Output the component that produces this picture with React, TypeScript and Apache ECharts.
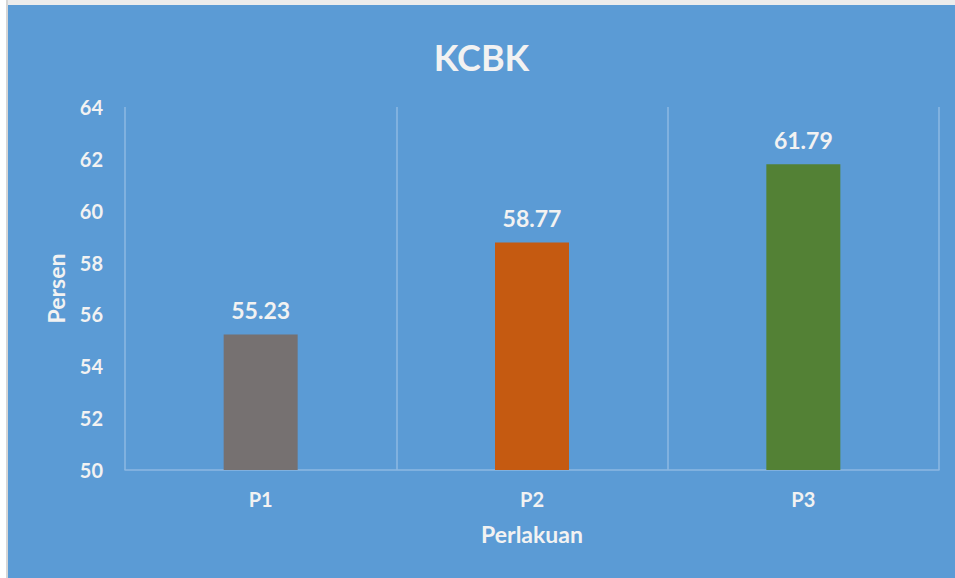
import React, { useEffect, useRef } from "react";
import * as echarts from "echarts";

const categories = ["P1", "P2", "P3"];
const values = [55.23, 58.77, 61.79];
const barColors = ["#767171", "#C55A11", "#538135"];
const titleText = "KCBK";
const yAxisName = "Persen";
const xAxisName = "Perlakuan";

export default function App() {
  const ref = useRef<HTMLDivElement>(null);
  useEffect(() => {
    document.body.style.margin = "0";
    const chart = echarts.init(ref.current!, null, { renderer: "svg" });
    const textColor = "#F2F2F2";
    const font = "Lato, 'Open Sans', sans-serif";
    chart.setOption({
      animation: false,
      backgroundColor: "#5B9BD5",
      textStyle: { fontFamily: font },
      title: {
        text: titleText,
        left: "center",
        top: 29,
        textStyle: { color: textColor, fontSize: 36, fontWeight: "bold", fontFamily: font },
      },
      grid: { left: 117, right: 16, top: 102, bottom: 108 },
      xAxis: {
        type: "category",
        data: categories,
        boundaryGap: true,
        axisLine: { show: true, lineStyle: { color: "#8DB8E2", width: 1.5 } },
        axisTick: { show: false },
        splitLine: { show: true, lineStyle: { color: "#8DB8E2", width: 1.5 } },
        axisLabel: { color: textColor, fontSize: 20, fontWeight: "bold", margin: 19, fontFamily: font },
        name: xAxisName,
        nameLocation: "middle",
        nameGap: 52,
        nameTextStyle: { color: textColor, fontSize: 23, fontWeight: "bold", fontFamily: font },
      },
      yAxis: {
        type: "value",
        min: 50,
        max: 64,
        interval: 2,
        axisLine: { show: false },
        axisTick: { show: false },
        splitLine: { show: false },
        axisLabel: { color: textColor, fontSize: 20, fontWeight: "bold", margin: 22, fontFamily: font },
        name: yAxisName,
        nameLocation: "middle",
        nameGap: 58,
        nameTextStyle: { color: textColor, fontSize: 23, fontWeight: "bold", fontFamily: font },
      },
      series: [
        {
          type: "bar",
          barWidth: 74,
          data: values.map((v, i) => ({ value: v, itemStyle: { color: barColors[i] } })),
          label: {
            show: true,
            position: "top",
            distance: 13,
            color: textColor,
            fontSize: 23,
            fontWeight: "bold",
            fontFamily: font,
            formatter: (p: any) => p.value.toFixed(2),
          },
        },
      ],
    });
    return () => chart.dispose();
  }, []);
  return (
    <div style={{ position: "fixed", left: 0, top: 0, width: 955, height: 578, background: "#ffffff" }}>
      <div style={{ position: "absolute", left: 6, top: 0, width: 949, height: 578, background: "#d6d6d6" }} />
      <div style={{ position: "absolute", left: 8, top: 0, width: 947, height: 5, background: "#ececec" }} />
      <div ref={ref} style={{ position: "absolute", left: 8, top: 5, width: 947, height: 573 }} />
    </div>
  );
}
